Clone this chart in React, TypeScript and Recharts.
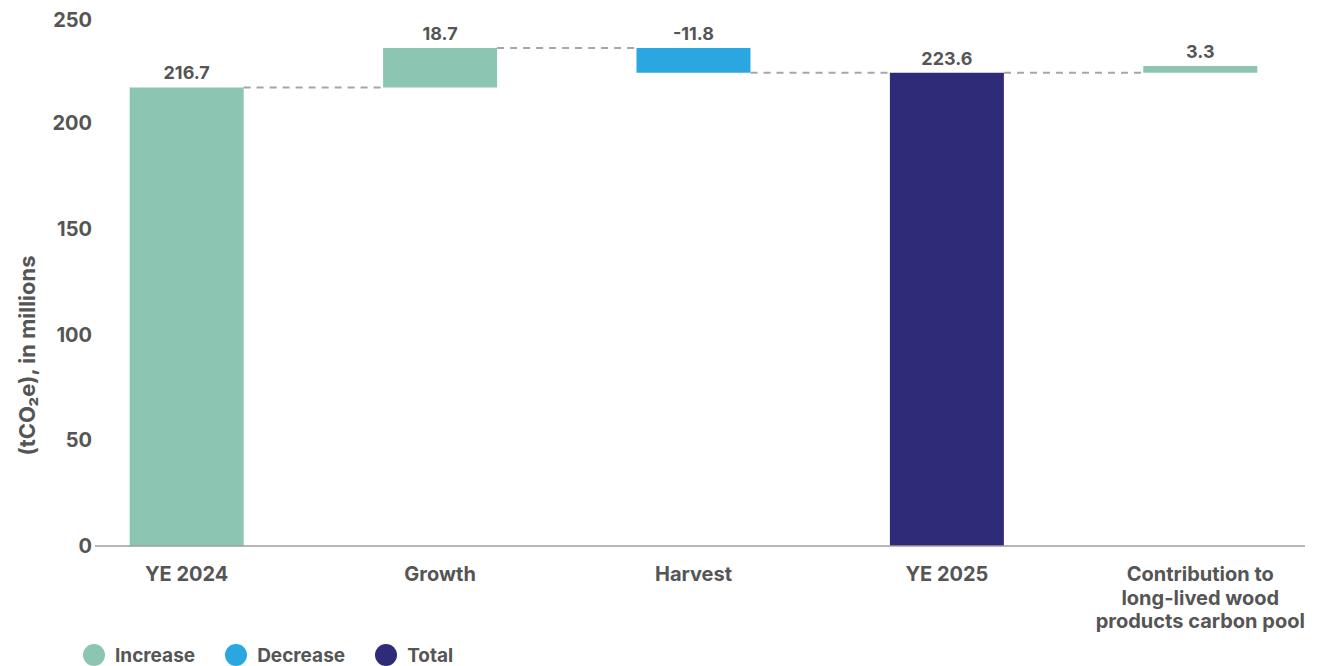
import { ComposedChart, Bar, XAxis, YAxis, Cell, LabelList, ReferenceLine, Legend, Label } from 'recharts';

const categories = ['YE 2024', 'Growth', 'Harvest', 'YE 2025', 'Contribution to\nlong-lived wood\nproducts carbon pool'];
const changes = [216.7, 18.7, -11.8, 223.6, 3.3];
const kinds = ['increase', 'increase', 'decrease', 'total', 'increase'];
const valueLabels = ['216.7', '18.7', '-11.8', '223.6', '3.3'];
const yTicks = [0, 50, 100, 150, 200, 250];
const legendNames = ['Increase', 'Decrease', 'Total'];
const legendKinds = ['increase', 'decrease', 'total'];

const colors: Record<string, string> = { increase: '#8cc6b3', decrease: '#2aa7e0', total: '#2e2b78' };
const textColor = '#555555';
const font = 'Inter, "Noto Sans", sans-serif';

// side gap of each category band, as a fraction of the band
const GAP = 0.275;
const HALF_BAR = 0.5 - GAP;
const xPad = { left: -35, right: -22 };
// index axis: 0 at the first band centre, 4 at the last
const idxPad = { left: xPad.left + 126.6, right: xPad.right + 126.6 };

let running = 0;
const data = categories.map((name, i) => {
  let range: number[];
  if (kinds[i] === 'total') {
    range = [0, changes[i]];
    running = changes[i];
  } else {
    const next = running + changes[i];
    range = [Math.min(running, next), Math.max(running, next)];
    running = next;
  }
  return { name, range, end: running, label: valueLabels[i], kind: kinds[i] };
});

const XTick = ({ x, y, payload }: any) => {
  const lines = String(payload.value).split('\n');
  return (
    <text x={x} y={y} textAnchor="middle" fill={textColor} fontSize={20} fontWeight={700} fontFamily={font}>
      {lines.map((l, i) => (
        <tspan key={i} x={x} dy={i === 0 ? 35 : 23.5}>{l}</tspan>
      ))}
    </text>
  );
};

const renderLegend = () => (
  <div style={{ display: 'flex', alignItems: 'center', paddingTop: 12, paddingLeft: 75, height: 22, fontFamily: font }}>
    {legendNames.map((n, i) => (
      <div key={n} style={{ display: 'flex', alignItems: 'center', marginRight: 30 }}>
        <span style={{ width: 22, height: 22, borderRadius: '50%', background: colors[legendKinds[i]], display: 'inline-block', marginRight: 10 }} />
        <span style={{ fontSize: 19, fontWeight: 700, color: textColor }}>{n}</span>
      </div>
    ))}
  </div>
);

export default function App() {
  return (
    <div style={{ width: 1317, height: 658, fontFamily: font }}>
      <ComposedChart width={1317} height={658} data={data} barCategoryGap={`${GAP * 100}%`} margin={{ top: 9, right: 20, bottom: 0, left: 0 }}>
        <XAxis
          dataKey="name"
          padding={xPad}
          tick={<XTick />}
          tickLine={false}
          tickSize={0}
          tickMargin={0}
          height={86}
          interval={0}
          axisLine={{ stroke: '#9e9e9e', strokeWidth: 1.5 }}
        />
        <XAxis xAxisId="n" type="number" domain={[0, 4]} hide padding={idxPad} allowDataOverflow />
        <YAxis
          domain={[0, 250]}
          ticks={yTicks}
          width={87}
          axisLine={false}
          tickLine={false}
          tickSize={0}
          tickMargin={3}
          tick={{ fill: textColor, fontSize: 20, fontWeight: 700, fontFamily: font }}
        >
          <Label value="(tCO₂e), in millions" angle={-90} position="center" dx={-24} dy={74} fill={textColor} fontSize={22} fontWeight={700} fontFamily={font} />
        </YAxis>
        {data.slice(0, -1).map((d, i) => (
          <ReferenceLine
            key={i}
            xAxisId="n"
            segment={[{ x: i + HALF_BAR, y: d.end }, { x: i + 1 - HALF_BAR, y: d.end }]}
            stroke="#a6a6a6"
            strokeWidth={2}
            strokeDasharray="7 6"
          />
        ))}
        <Bar dataKey="range" isAnimationActive={false}>
          {data.map((d, i) => (
            <Cell key={i} fill={colors[d.kind]} />
          ))}
          <LabelList dataKey="label" position="top" offset={8} fill={textColor} fontSize={18} fontWeight={700} fontFamily={font} />
        </Bar>
        <Legend verticalAlign="bottom" align="left" height={34} content={renderLegend} wrapperStyle={{ left: 0, bottom: 0, width: '100%' }} />
      </ComposedChart>
    </div>
  );
}
